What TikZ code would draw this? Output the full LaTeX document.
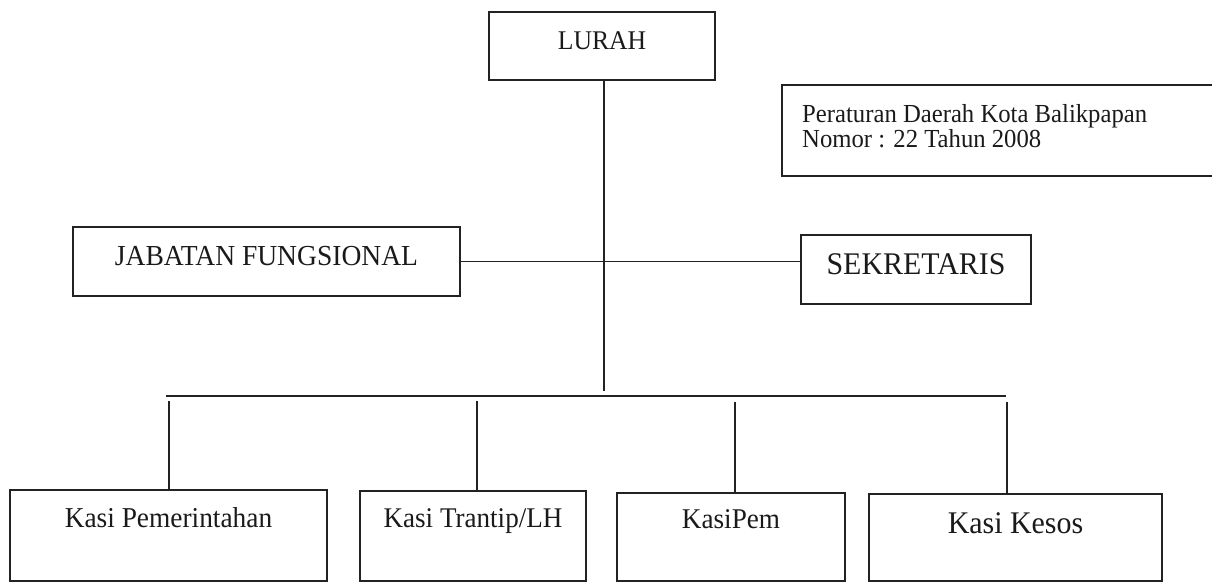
\documentclass[tikz,border=0pt]{standalone}
\usepackage{fontspec}
\setmainfont{Liberation Serif}[FakeStretch=0.95]
\definecolor{ink}{HTML}{222222}
\definecolor{txt}{HTML}{1A1A1A}
\tikzset{
  orgbox/.style n args={4}{draw=ink, line width=1.6pt, text=txt,
    inner xsep=0pt, inner ysep=0pt, minimum width=#1pt,
    text height=#2pt, text depth=#3pt,
    font=\fontsize{#4}{#4}\selectfont, anchor=base},
  conn/.style={draw=ink, line width=1.6pt},
  plaintext/.style={anchor=base west, inner sep=0pt, text=txt,
    font=\fontsize{26}{26}\selectfont}
}
\begin{document}
\begin{tikzpicture}[x=1pt,y=-1pt]
\useasboundingbox (0,0) rectangle (1212,582);
% boxes
\node[orgbox={226}{37}{31}{27}] (lurah) at (602,49) {LURAH};
\node[orgbox={387}{38}{31}{29}] (jab) at (266.5,265) {JABATAN FUNGSIONAL};
\node[orgbox={230}{39}{30}{31.5}] (sek) at (916,274) {SEKRETARIS};
\node[orgbox={317}{37}{54}{28.8}] (k1) at (168.5,527) {Kasi Pemerintahan};
\node[orgbox={226}{36}{54}{28.5}] (k2) at (473,527) {Kasi Trantip/LH};
\node[orgbox={227.5}{35}{53}{28.6}] (k3) at (731,528) {KasiPem};
\node[orgbox={293}{39}{48}{31.5}] (k4) at (1015.5,533) {Kasi Kesos};
% regulation box
\node[draw=ink, line width=1.6pt, minimum width=448pt, minimum height=91pt, inner sep=0pt] (perda) at (1006,130.5) {};
\node[plaintext] (perda1) at (802,122) {Peraturan Daerah Kota Balikpapan};
\node[plaintext] (perda2) at (802,147) {Nomor : 22 Tahun 2008};
% connectors
\coordinate (tk) at (604,391);
\draw[conn] (lurah.south -| tk) -- (tk);
\draw[conn] (jab.east) -- (jab.east -| sek.west);
\coordinate (busL) at (166,396);
\coordinate (busR) at (1006,396);
\draw[conn] (busL) -- (busR);
\coordinate (d1) at (169,401);
\coordinate (d2) at (477,401);
\coordinate (d3) at (735,402);
\coordinate (d4) at (1007,402);
\draw[conn] (d1) -- (d1 |- k1.north);
\draw[conn] (d2) -- (d2 |- k2.north);
\draw[conn] (d3) -- (d3 |- k3.north);
\draw[conn] (d4) -- (d4 |- k4.north);
\end{tikzpicture}
\end{document}
